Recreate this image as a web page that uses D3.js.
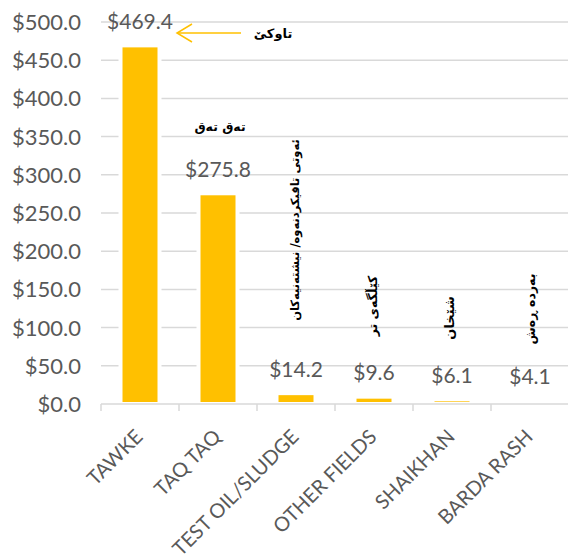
<!DOCTYPE html>
<html>
<head>
<meta charset="utf-8">
<script src="https://cdn.jsdelivr.net/npm/d3@7"></script>
<style>
  body { margin: 0; background: #fff; }
  text { font-family: Lato, "Open Sans", sans-serif; }
  .kurd { font-family: "DejaVu Sans", sans-serif; font-weight: bold; fill: #000; }
</style>
</head>
<body>
<div id="chart"></div>
<script>
// revenue by field (USD millions)
var categories = ['TAWKE', 'TAQ TAQ', 'TEST OIL/SLUDGE', 'OTHER FIELDS', 'SHAIKHAN', 'BARDA RASH'];
var values = [469.4, 275.8, 14.2, 9.6, 6.1, 4.1];
var kurdishNames = ['تاوکێ', 'تەق تەق', 'ئەوتی تاقیکردنەوە/ نیشتەنیەکان', 'کێڵگەی تر', 'شێخان', 'بەردە ڕەش'];
var yTicks = [0, 50, 100, 150, 200, 250, 300, 350, 400, 450, 500];

var width = 568, height = 558;
var gridColor = '#d9d9d9';
var textColor = '#595959';
var barColor = '#ffc000';

var svg = d3.select('#chart').append('svg')
    .attr('width', width)
    .attr('height', height);

var x = d3.scaleBand()
    .domain(categories)
    .range([101, 569])
    .padding(0);

var y = d3.scaleLinear()
    .domain([0, 500])
    .range([404, 22]);

// gridlines
svg.append('g').selectAll('line')
    .data(yTicks.slice(1))
    .enter().append('line')
    .attr('x1', 101).attr('x2', width)
    .attr('y1', function (d) { return y(d); })
    .attr('y2', function (d) { return y(d); })
    .attr('stroke', gridColor)
    .attr('stroke-width', 1.5);

// y labels
svg.append('g').selectAll('text')
    .data(yTicks)
    .enter().append('text')
    .attr('x', 81)
    .attr('y', function (d) { return y(d); })
    .attr('dy', '0.36em')
    .attr('text-anchor', 'end')
    .style('font-size', '22px')
    .style('fill', textColor)
    .text(function (d) { return '$' + d.toFixed(1); });

// bars
svg.append('g').selectAll('rect')
    .data(values)
    .enter().append('rect')
    .attr('x', function (d, i) { return x(categories[i]) + x.bandwidth() * 0.25; })
    .attr('width', x.bandwidth() * 0.5)
    .attr('y', function (d) { return y(d); })
    .attr('height', function (d) { return y(0) - y(d); })
    .attr('fill', barColor)
    .attr('stroke', '#fff')
    .attr('stroke-width', 4);

// x axis line and ticks
var axis = svg.append('g');
axis.append('line')
    .attr('x1', 101).attr('x2', width)
    .attr('y1', y(0)).attr('y2', y(0))
    .attr('stroke', gridColor).attr('stroke-width', 1.5);
axis.selectAll('.tick')
    .data(categories)
    .enter().append('line')
    .attr('class', 'tick')
    .attr('x1', function (d) { return x(d); })
    .attr('x2', function (d) { return x(d); })
    .attr('y1', y(0)).attr('y2', y(0) + 7)
    .attr('stroke', gridColor).attr('stroke-width', 1.5);

axis.selectAll('.xlab')
    .data(categories)
    .enter().append('text')
    .attr('class', 'xlab')
    .attr('transform', function (d) {
        return 'translate(' + (x(d) + x.bandwidth() / 2 + 4) + ',438) rotate(-45)';
    })
    .attr('text-anchor', 'end')
    .style('font-size', '20px')
    .style('fill', textColor)
    .text(function (d) { return d; });

// value labels
svg.append('g').selectAll('text')
    .data(values)
    .enter().append('text')
    .attr('x', function (d, i) { return x(categories[i]) + x.bandwidth() / 2; })
    .attr('y', function (d) { return y(d) - 24; })
    .attr('dy', '0.36em')
    .attr('text-anchor', 'middle')
    .style('font-size', '21px')
    .style('fill', textColor)
    .text(function (d) { return '$' + d.toFixed(1); });

// kurdish notes
function cx(i) { return x(categories[i]) + x.bandwidth() / 2; }
var notePos = [
    { x: 273, y: 33, rot: 0, size: 13 },
    { x: cx(1) + 2, y: 127, rot: 0, size: 12.5 },
    { x: cx(2) - 1, y: 230, rot: -90, size: 11.5 },
    { x: cx(3) - 1, y: 306, rot: -90, size: 12.5 },
    { x: cx(4) - 3, y: 318, rot: -90, size: 13 },
    { x: cx(5) + 1, y: 309, rot: -90, size: 12.5 }
];
svg.append('g').selectAll('text')
    .data(kurdishNames)
    .enter().append('text')
    .attr('class', 'kurd')
    .attr('direction', 'rtl')
    .attr('transform', function (d, i) {
        var p = notePos[i];
        return 'translate(' + p.x + ',' + p.y + ') rotate(' + p.rot + ')';
    })
    .attr('text-anchor', 'middle')
    .attr('dy', '0.35em')
    .style('font-size', function (d, i) { return notePos[i].size + 'px'; })
    .text(function (d) { return d; });

// arrow pointing at the tawke label
var arrow = svg.append('g')
    .attr('stroke', barColor)
    .attr('stroke-width', 1.5)
    .attr('fill', 'none');
arrow.append('line').attr('x1', 241).attr('y1', 33).attr('x2', 177).attr('y2', 33);
arrow.append('path').attr('d', 'M192,24L177,33L192,42');
</script>
</body>
</html>
